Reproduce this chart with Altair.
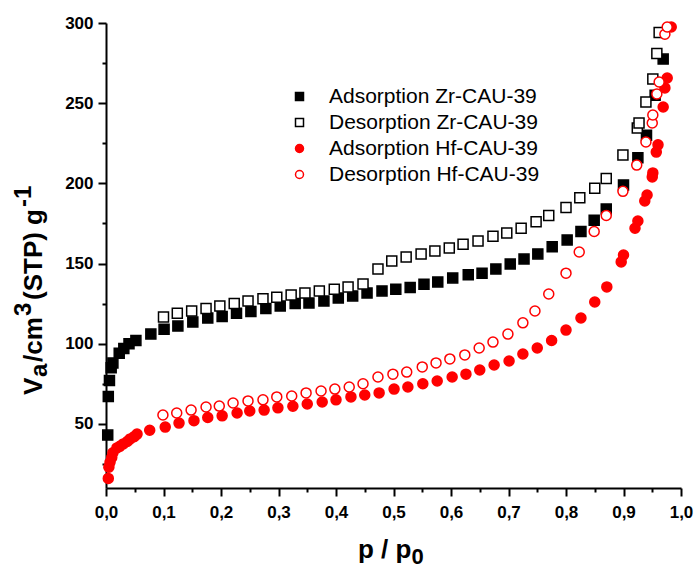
import altair as alt
import pandas as pd

series_names = ["Adsorption Zr-CAU-39", "Desorption Zr-CAU-39",
                "Adsorption Hf-CAU-39", "Desorption Hf-CAU-39"]

zr_ads_x = [0.003, 0.004, 0.006, 0.009, 0.012, 0.023, 0.031, 0.040, 0.052, 0.078,
            0.101, 0.125, 0.151, 0.177, 0.202, 0.227, 0.252, 0.278, 0.303, 0.329,
            0.353, 0.379, 0.404, 0.429, 0.454, 0.480, 0.504, 0.529, 0.553, 0.577,
            0.603, 0.630, 0.654, 0.678, 0.703, 0.727, 0.751, 0.776, 0.802, 0.826,
            0.849, 0.870, 0.900, 0.925, 0.940, 0.955, 0.969]
zr_ads_y = [43, 67, 77, 85, 88, 94, 97, 100, 102, 106,
            109, 111, 113.5, 116, 117, 119, 120, 122, 123.5, 125,
            125.4, 126.6, 128.5, 129.8, 131.6, 132.9, 134, 135, 137, 138.5,
            141, 143, 144, 146.6, 149.7, 152.8, 156, 160.5, 164.7, 170,
            177, 184, 199, 216, 230, 255, 277.5]

zr_des_x = [0.100, 0.124, 0.149, 0.174, 0.198, 0.223, 0.247, 0.273, 0.297, 0.322,
            0.346, 0.371, 0.397, 0.421, 0.447, 0.473, 0.497, 0.522, 0.548, 0.572,
            0.597, 0.621, 0.647, 0.673, 0.697, 0.722, 0.748, 0.770, 0.800, 0.824,
            0.850, 0.870, 0.899, 0.924, 0.927, 0.939, 0.951, 0.958, 0.962]
zr_des_y = [116.6, 119, 120.4, 122, 123.5, 125, 126.6, 128, 129, 130.4,
            131.6, 132.9, 134, 135.3, 137.2, 146.6, 151.6, 154, 156, 157.8,
            159.7, 162, 164, 167, 169, 172, 176, 180, 185, 191,
            197, 203, 217.7, 234.5, 237.6, 250.7, 265, 281, 294]

hf_ads_x = [0.004, 0.005, 0.007, 0.010, 0.012, 0.019, 0.024, 0.030, 0.037, 0.042,
            0.049, 0.054, 0.076, 0.103, 0.127, 0.153, 0.177, 0.202, 0.228, 0.250,
            0.275, 0.299, 0.325, 0.350, 0.376, 0.400, 0.426, 0.450, 0.475, 0.501,
            0.525, 0.551, 0.576, 0.602, 0.626, 0.650, 0.675, 0.701, 0.725, 0.750,
            0.775, 0.800, 0.826, 0.850, 0.871, 0.896, 0.900, 0.920, 0.925, 0.937,
            0.941, 0.950, 0.951, 0.957, 0.960, 0.969, 0.972, 0.976, 0.983]
hf_ads_y = [16, 23, 26, 29, 32, 35, 36, 37.5, 39, 40.6,
            42, 43.6, 46, 48, 50.5, 52, 54, 55, 56.8, 58,
            58.6, 60, 61, 62.4, 63.6, 65, 66.8, 68, 69.3, 71.7,
            73, 75, 76.7, 79.2, 81, 83.6, 86.7, 89.2, 93.6, 97.3,
            102, 108.5, 116, 126, 135.4, 151, 155.3, 172, 176.5, 189,
            192.7, 204, 206.5, 219.5, 224, 247.6, 259.5, 265.7, 297.5]

hf_des_x = [0.099, 0.123, 0.148, 0.174, 0.197, 0.221, 0.247, 0.273, 0.297, 0.323,
            0.348, 0.374, 0.398, 0.423, 0.447, 0.473, 0.499, 0.523, 0.550, 0.574,
            0.598, 0.624, 0.649, 0.673, 0.699, 0.725, 0.746, 0.770, 0.800, 0.823,
            0.849, 0.870, 0.899, 0.923, 0.939, 0.950, 0.951, 0.958, 0.962, 0.972,
            0.976]
hf_des_y = [55.5, 56.8, 58.6, 60.5, 61.1, 63, 64.3, 65, 66.8, 67.4,
            69.3, 70.5, 71.7, 73, 75, 79.2, 81, 82.3, 85.5, 88,
            90.5, 93, 97.3, 101, 106, 113, 120.4, 131, 144, 157.2,
            170, 180, 195, 211.4, 225.8, 237.6, 242.6, 255.7, 263.2, 293,
            297.5]

x_tick_values = [round(i * 0.05, 2) for i in range(21)]
y_tick_values = [25 * i for i in range(1, 13)]

# axis-title pieces (normal / subscript / superscript runs)
y_title_parts = ["V", "a", "/cm", "3", "(STP) g", "-1"]
x_title_parts = ["p / p", "0"]

xs_all = [zr_ads_x, zr_des_x, hf_ads_x, hf_des_x]
ys_all = [zr_ads_y, zr_des_y, hf_ads_y, hf_des_y]
rows = []
for name, xs, ys in zip(series_names, xs_all, ys_all):
    assert len(xs) == len(ys), name
    for x, y in zip(xs, ys):
        rows.append({"p": x, "v": y, "series": name})
df = pd.DataFrame(rows)

shape_range = ["square", "square", "circle", "circle"]
fill_range = ["#000000", "#ffffff", "#ff0000", "#ffffff"]
stroke_range = ["#000000", "#000000", "#ff0000", "#ff0000"]

FONT = "Liberation Sans"
W, H = 575, 465

x_axis = alt.Axis(
    values=x_tick_values,
    labelExpr="round(datum.value*100) % 10 == 0 ? replace(format(datum.value, '.1f'), '.', ',') : ''",
    tickSize={"condition": {"test": "round(datum.value*100) % 10 == 0", "value": 8}, "value": 4},
    title=None,
    labelPadding=8,
    labelFlush=False,
)
y_axis = alt.Axis(
    values=y_tick_values,
    labelExpr="datum.value % 50 == 0 ? format(datum.value, 'd') : ''",
    tickSize={"condition": {"test": "datum.value % 50 == 0", "value": 8}, "value": 4},
    title=None,
    labelPadding=5,
    labelFlush=False,
)

points = alt.Chart(df).mark_point(filled=True, strokeWidth=1.5, opacity=1).encode(
    x=alt.X("p:Q", scale=alt.Scale(domain=[0, 1], nice=False, zero=False), axis=x_axis),
    y=alt.Y("v:Q", scale=alt.Scale(domain=[10, 300], nice=False, zero=False), axis=y_axis),
    shape=alt.Shape("series:N", scale=alt.Scale(domain=series_names, range=shape_range), legend=alt.Legend(title=None)),
    fill=alt.Fill("series:N", scale=alt.Scale(domain=series_names, range=fill_range), legend=alt.Legend(title=None)),
    stroke=alt.Stroke("series:N", scale=alt.Scale(domain=series_names, range=stroke_range), legend=alt.Legend(title=None)),
    size=alt.value(100),
)


def title_piece(text, x, y, size, angle=0):
    kw = dict(font=FONT, fontWeight="bold", fontSize=size, align="left",
              baseline="alphabetic", color="black")
    if angle:
        kw["angle"] = angle
    return alt.Chart(pd.DataFrame({"t": [text]})).mark_text(**kw).encode(
        text="t:N", x=alt.value(x), y=alt.value(y))


# y-axis title, read bottom-to-top (positions relative to plot origin)
y_title = [
    title_piece(y_title_parts[0], -64, 372, 26, 270),
    title_piece(y_title_parts[1], -59, 354, 24, 270),
    title_piece(y_title_parts[2], -64, 339, 26, 270),
    title_piece(y_title_parts[3], -75, 293, 24, 270),
    title_piece(y_title_parts[4], -64, 277, 26, 270),
    title_piece(y_title_parts[5], -75, 184, 24, 270),
]
x_title = [
    title_piece(x_title_parts[0], 252, 535, 26),
    title_piece(x_title_parts[1], 305.5, 541, 22),
]

chart = alt.layer(points, *y_title, *x_title).properties(
    width=W,
    height=H,
    autosize=alt.AutoSizeParams(type="none"),
    padding={"left": 106, "top": 23, "right": 16, "bottom": 83},
).configure_view(stroke=None).configure_axis(
    grid=False,
    domainColor="black",
    domainWidth=2,
    tickColor="black",
    tickWidth=2,
    labelFont=FONT,
    labelFontWeight="bold",
    labelFontSize=17,
    labelColor="black",
).configure_legend(
    orient="none",
    legendX=183,
    legendY=63,
    labelFont=FONT,
    labelFontSize=21,
    labelColor="black",
    symbolSize=64,
    symbolStrokeWidth=1.5,
    labelOffset=19,
    rowPadding=4,
    labelLimit=400,
)

chart.save("out.html", embed_options={"renderer": "svg", "actions": False})
